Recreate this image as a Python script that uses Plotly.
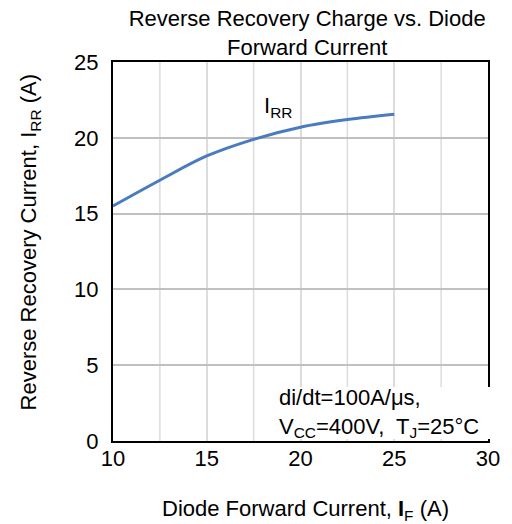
import plotly.graph_objects as go

x_if = [10, 12.5, 15, 17.5, 20, 22.5, 25]
y_irr = [15.5, 17.2, 18.8, 19.9, 20.7, 21.2, 21.55]
x_ticks = [10, 15, 20, 25, 30]
y_ticks = [0, 5, 10, 15, 20, 25]
minor_x = [12.5, 17.5, 22.5, 27.5]

FONT = "Liberation Sans, Arial, sans-serif"
TXT = 22

fig = go.Figure()
fig.add_trace(go.Scatter(x=x_if, y=y_irr, mode="lines",
                         line=dict(color="#4a7bbf", width=3, shape="spline", smoothing=1.0),
                         showlegend=False, hoverinfo="skip"))

for xv in minor_x:
    fig.add_shape(type="line", x0=xv, x1=xv, y0=0, y1=25, xref="x", yref="y",
                  line=dict(color="#dcdcdc", width=1.5), layer="below")

fig.update_layout(
    width=512, height=524,
    margin=dict(l=113, r=22, t=62, b=83),
    paper_bgcolor="white", plot_bgcolor="white",
    font=dict(family=FONT, color="black"),
    title=dict(text="Reverse Recovery Charge vs. Diode<br>Forward Current",
               xref="container", yref="container", x=0.6, xanchor="center",
               y=1 - 26 / 524, yanchor="middle", font=dict(size=TXT, family=FONT, color="black")),
    xaxis=dict(range=[10, 30], tickvals=x_ticks, ticks="", showgrid=True, gridcolor="#dcdcdc", gridwidth=1.5,
               showline=True, linecolor="black", linewidth=2, mirror=True, zeroline=False,
               tickfont=dict(size=22), ticklabelstandoff=-3),
    yaxis=dict(range=[0, 25], tickvals=y_ticks, ticks="", showgrid=True, gridcolor="#c0c0c0", gridwidth=2,
               showline=True, linecolor="black", linewidth=2, mirror=True, zeroline=False,
               tickfont=dict(size=22), ticklabelstandoff=8),
)

fig.add_annotation(x=0.512, y=-0.182, xref="paper", yref="paper", xanchor="center", yanchor="middle",
                   text="Diode Forward Current, <b>I</b><sub>F</sub> (A)", showarrow=False,
                   font=dict(size=TXT, color="black"))
fig.add_annotation(x=(30 - 113) / 377, y=0.525, xref="paper", yref="paper", xanchor="center", yanchor="middle",
                   text="Reverse Recovery Current, I<sub>RR</sub> (A)", textangle=-90, showarrow=False,
                   font=dict(size=TXT, color="black"))

fig.add_shape(type="rect", xref="paper", yref="paper", x0=(272 - 113) / 377, x1=(497 - 113) / 377,
              y0=(441 - 439) / 379, y1=(441 - 387) / 379,
              fillcolor="white", line=dict(width=0), layer="above")

fig.add_annotation(x=18.8, y=22.0, xref="x", yref="y", text="I<sub>RR</sub>", showarrow=False,
                   font=dict(size=TXT, color="black"))
fig.add_annotation(x=(278 - 113) / 377, y=(441 - 412.5) / 379, xref="paper", yref="paper",
                   xanchor="left", yanchor="middle", align="left",
                   text="di/dt=100A/μs,<br>V<sub>CC</sub>=400V,  T<sub>J</sub>=25°C", showarrow=False,
                   font=dict(size=TXT, color="black"))

fig.write_html("out.html")
